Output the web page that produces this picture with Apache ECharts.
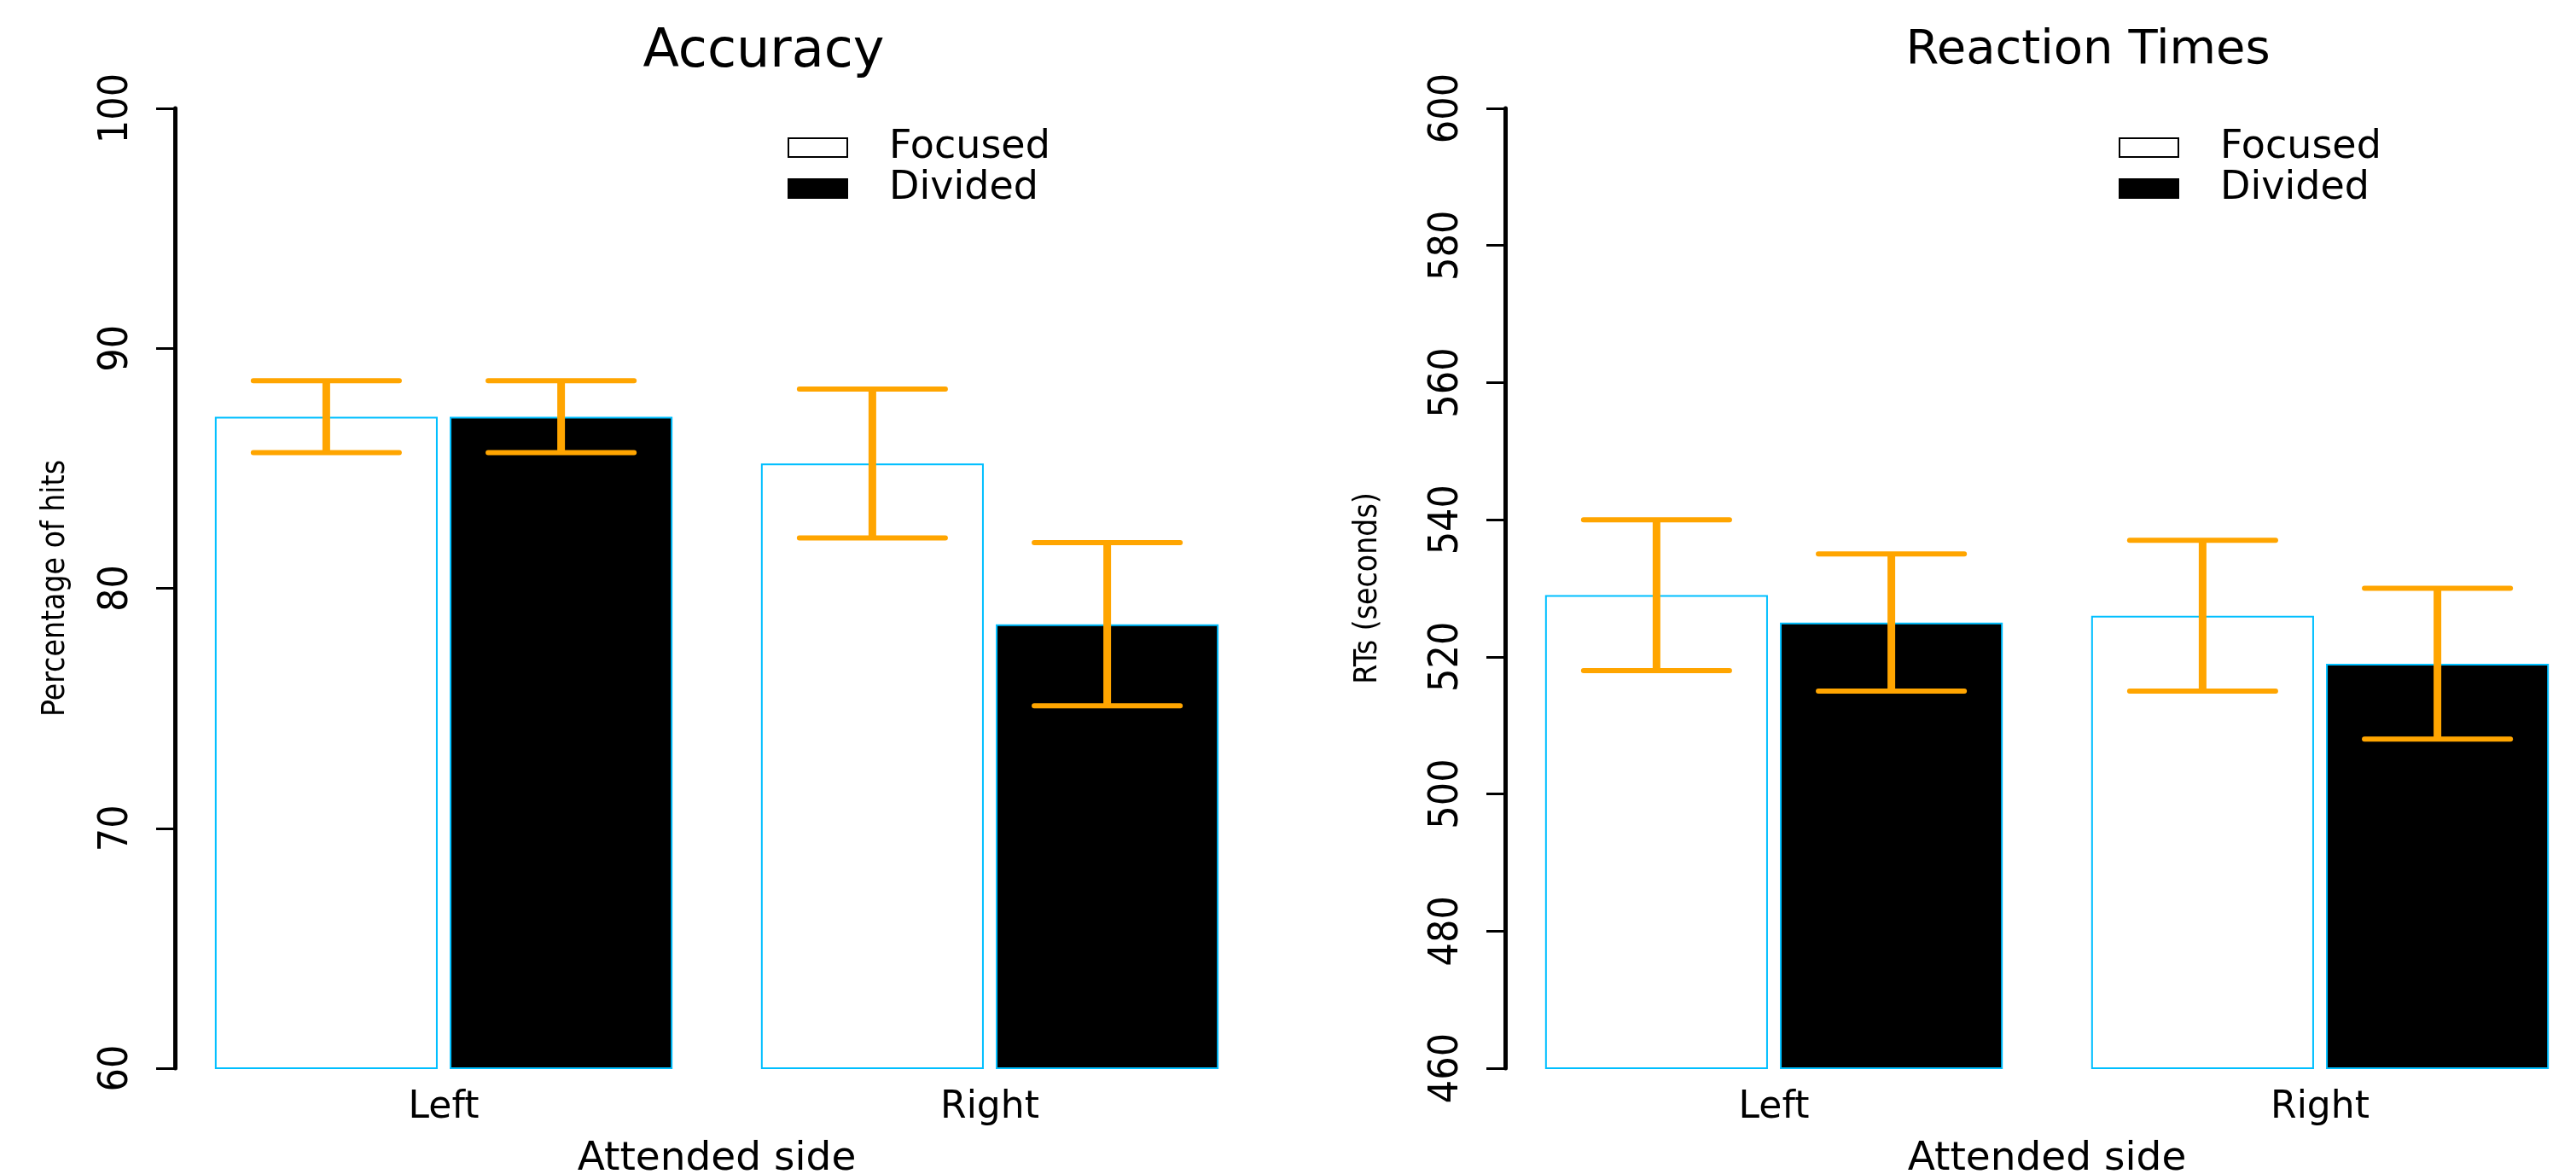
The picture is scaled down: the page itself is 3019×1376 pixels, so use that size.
<!DOCTYPE html>
<html>
<head>
<meta charset="utf-8">
<script src="https://cdn.jsdelivr.net/npm/echarts@6/dist/echarts.min.js"></script>
<style>
  html, body { margin: 0; padding: 0; background: #ffffff; }
  #chart { width: 3019px; height: 1376px; }
</style>
</head>
<body>
<div id="chart"></div>
<script>
// Attended side categories and attention conditions
const sides = ['Left', 'Right'];
const conditions = ['Focused', 'Divided'];

// Accuracy (% hits): means and half-widths of the error bars
const accFocused = [87.15, 85.2];
const accDivided = [87.15, 78.5];
const accFocusedErr = [1.5, 3.1];
const accDividedErr = [1.5, 3.4];

// Reaction times: means and half-widths of the error bars
const rtFocused = [529, 526];
const rtDivided = [525, 519];
const rtFocusedErr = [11, 11];
const rtDividedErr = [10, 11];

// Value-axis ranges and tick steps
const accAxis = [60, 100, 10];
const rtAxis = [460, 600, 20];

// Bar geometry (fractions of the category band / bar width)
const BAR_FRAC = 0.408;
const GAP_FRAC = 0.054;
const CAP_FRAC = 0.655;

const FONT = 'DejaVu Sans';
const NARROW = "'DejaVu Sans Condensed', 'Liberation Sans Narrow', 'DejaVu Sans'";
const ORANGE = '#FFA500';
const CYAN = '#00BFFF';

function errorBars(axisIndex, means, errs, slot) {
  return {
    type: 'custom',
    xAxisIndex: axisIndex,
    yAxisIndex: axisIndex,
    z: 10,
    silent: true,
    data: means.map((m, i) => [i, m - errs[i], m + errs[i]]),
    renderItem(params, api) {
      const cat = api.value(0);
      const lo = api.coord([cat, api.value(1)]);
      const hi = api.coord([cat, api.value(2)]);
      const band = api.size([1, 0])[0];
      const barW = band * BAR_FRAC;
      const x = lo[0] + slot * barW * (1 + GAP_FRAC) / 2;
      const half = barW * CAP_FRAC / 2;
      return {
        type: 'group',
        children: [
          { type: 'line', shape: { x1: x, y1: hi[1], x2: x, y2: lo[1] },
            style: { stroke: ORANGE, lineWidth: 9 } },
          { type: 'line', shape: { x1: x - half, y1: hi[1], x2: x + half, y2: hi[1] },
            style: { stroke: ORANGE, lineWidth: 6, lineCap: 'round' } },
          { type: 'line', shape: { x1: x - half, y1: lo[1], x2: x + half, y2: lo[1] },
            style: { stroke: ORANGE, lineWidth: 6, lineCap: 'round' } }
        ]
      };
    }
  };
}

function barSeries(axisIndex, name, values, fill) {
  return {
    type: 'bar',
    name: name,
    xAxisIndex: axisIndex,
    yAxisIndex: axisIndex,
    data: values,
    barWidth: (BAR_FRAC * 100) + '%',
    barGap: (GAP_FRAC * 100) + '%',
    itemStyle: { color: fill, borderColor: CYAN, borderWidth: 2 },
    emphasis: { disabled: true }
  };
}

function xAxisFor(gridIndex) {
  return {
    type: 'category',
    gridIndex: gridIndex,
    data: sides,
    axisLine: { show: false },
    axisTick: { show: false },
    axisLabel: { fontFamily: FONT, fontSize: 44, color: '#000', margin: 25 },
    name: 'Attended side',
    nameLocation: 'middle',
    nameGap: 83,
    nameTextStyle: { fontFamily: FONT, fontSize: 47, color: '#000' }
  };
}

function yAxisFor(gridIndex, range, name, gap) {
  return {
    type: 'value',
    gridIndex: gridIndex,
    min: range[0],
    max: range[1],
    interval: range[2],
    offset: -5,
    splitLine: { show: false },
    axisLine: { show: true, lineStyle: { color: '#000', width: 5 } },
    axisTick: { show: true, length: 22, lineStyle: { color: '#000', width: 3 } },
    axisLabel: { rotate: 90, fontFamily: NARROW, fontSize: 48, color: '#000', margin: 44 },
    name: name,
    nameLocation: 'middle',
    nameGap: gap,
    nameTextStyle: { fontFamily: NARROW, fontSize: 37, color: '#000' }
  };
}

function legendAt(left) {
  return {
    left: left,
    top: 150,
    orient: 'vertical',
    padding: 0,
    icon: 'rect',
    itemWidth: 69,
    itemHeight: 22,
    itemGap: 2,
    selectedMode: false,
    textStyle: { fontFamily: FONT, fontSize: 46, color: '#000', padding: [0, 0, 0, 44] },
    data: [
      { name: conditions[0], itemStyle: { color: '#fff', borderColor: '#000', borderWidth: 2 } },
      { name: conditions[1], itemStyle: { color: '#000', borderColor: '#000', borderWidth: 2 } }
    ]
  };
}

const chart = echarts.init(document.getElementById('chart'), null, { renderer: 'canvas' });
chart.setOption({
  animation: false,
  backgroundColor: '#ffffff',
  title: [
    { text: 'Accuracy', left: 890, top: 26, textAlign: 'center',
      textStyle: { fontFamily: FONT, fontSize: 62, fontWeight: 'normal', color: '#000' } },
    { text: 'Reaction Times', left: 2442, top: 26, textAlign: 'center',
      textStyle: { fontFamily: FONT, fontSize: 56, fontWeight: 'normal', color: '#000' } }
  ],
  legend: [legendAt(923), legendAt(2483)],
  grid: [
    { left: 200, top: 127, width: 1280, height: 1125, outerBoundsMode: 'none' },
    { left: 1759, top: 127, width: 1280, height: 1125, outerBoundsMode: 'none' }
  ],
  xAxis: [xAxisFor(0), xAxisFor(1)],
  yAxis: [
    yAxisFor(0, accAxis, 'Percentage of hits', 121),
    yAxisFor(1, rtAxis, 'RTs (seconds)', 142)
  ],
  series: [
    barSeries(0, conditions[0], accFocused, '#ffffff'),
    barSeries(0, conditions[1], accDivided, '#000000'),
    errorBars(0, accFocused, accFocusedErr, -1),
    errorBars(0, accDivided, accDividedErr, 1),
    barSeries(1, conditions[0], rtFocused, '#ffffff'),
    barSeries(1, conditions[1], rtDivided, '#000000'),
    errorBars(1, rtFocused, rtFocusedErr, -1),
    errorBars(1, rtDivided, rtDividedErr, 1)
  ]
});
</script>
</body>
</html>
